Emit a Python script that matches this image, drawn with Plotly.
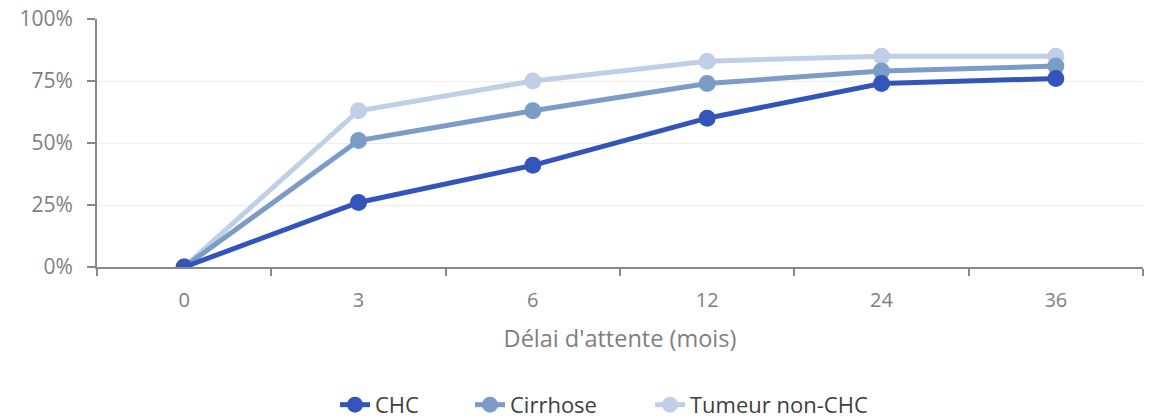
import plotly.graph_objects as go

categories = ["0", "3", "6", "12", "24", "36"]
chc = [0.00, 0.26, 0.41, 0.60, 0.74, 0.76]
cirrhose = [0.00, 0.51, 0.63, 0.74, 0.79, 0.81]
tumeur = [0.00, 0.63, 0.75, 0.83, 0.85, 0.85]
y_ticks = [0, 0.25, 0.5, 0.75, 1.0]
y_labels = ["0%", "25%", "50%", "75%", "100%"]

series = [
    ("CHC", chc, "#3355BB", "legend", 335),
    ("Cirrhose", cirrhose, "#7A9CC6", "legend2", 470),
    ("Tumeur non-CHC", tumeur, "#BFD0E6", "legend3", 650),
]

FONT = "Open Sans"
fig = go.Figure()
# draw in reverse so CHC is on top
for name, vals, col, lg, lx in reversed(series):
    fig.add_trace(go.Scatter(
        x=categories, y=vals, name=name, mode="lines+markers",
        line=dict(color=col, width=5),
        marker=dict(color=col, size=17),
        legend=lg,
    ))

legend_common = dict(orientation="h", xref="container", xanchor="left",
                     y=0.036, yref="container", yanchor="middle",
                     font=dict(size=22, color="#404040"), bgcolor="rgba(0,0,0,0)")
layout_legends = {}
for name, vals, col, lg, lx in series:
    layout_legends[lg] = dict(legend_common, x=lx / 1160)

fig.update_layout(
    width=1160, height=420,
    margin=dict(l=97, r=17, t=19, b=153, autoexpand=False),
    plot_bgcolor="white", paper_bgcolor="white",
    font=dict(family=FONT, color="#7F7F7F", size=20),
    showlegend=True,
    xaxis=dict(
        type="category", range=[-0.5, 5.5], automargin=False,
        tickson="boundaries", ticks="outside", ticklen=7, tickwidth=2,
        tickcolor="#898989", showline=True, linecolor="#898989", linewidth=2,
        showgrid=False, tickfont=dict(size=20, color="#7F7F7F"),
        ticklabelstandoff=14,
        title=dict(text="Délai d'attente (mois)", font=dict(size=23.5, color="#7F7F7F"), standoff=19),
    ),
    yaxis=dict(
        range=[0, 1.0], tickvals=y_ticks, ticktext=y_labels, automargin=False,
        ticks="outside", ticklen=8, tickwidth=2, tickcolor="#898989",
        showline=True, linecolor="#898989", linewidth=2,
        showgrid=True, gridcolor="#EEEEEE", gridwidth=1,
        zeroline=False, tickfont=dict(size=21, color="#7F7F7F"),
        ticklabelstandoff=10,
    ),
    **layout_legends,
)

fig.write_html("out.html")
